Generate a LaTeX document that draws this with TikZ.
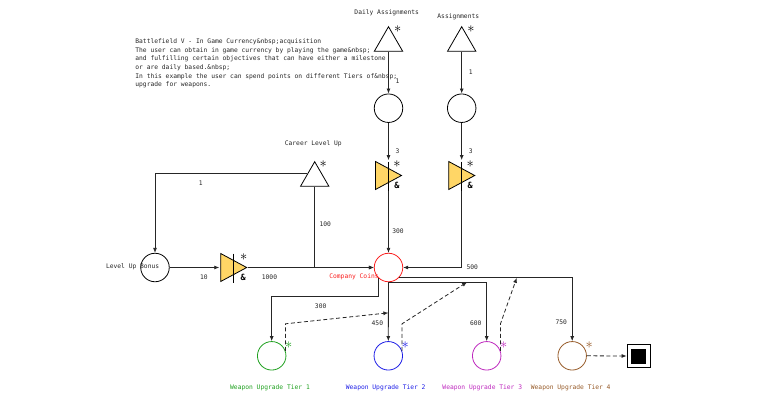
\documentclass[tikz,border=0pt]{standalone}
\usepackage{fontspec}
\setmonofont{DejaVu Sans Mono}
\usetikzlibrary{shapes.geometric,arrows.meta,calc}
\definecolor{convyellow}{RGB}{255,214,102}
\definecolor{coinred}{RGB}{250,30,30}
\definecolor{tiergreen}{RGB}{30,160,30}
\definecolor{tierblue}{RGB}{30,30,230}
\definecolor{tiermagenta}{RGB}{190,40,190}
\definecolor{tierbrown}{RGB}{150,90,40}
\begin{document}
\begin{tikzpicture}[x=1pt, y=-1pt, line width=0.8pt,
        txt/.style={font=\ttfamily\fontsize{6.3}{8.6}\selectfont, inner sep=0pt, text=black!85},
        num/.style={txt},
        pool/.style={circle, draw, minimum size=28.5pt, inner sep=0pt},
        src/.style={regular polygon, regular polygon sides=3, draw, minimum size=32.8pt, inner sep=0pt},
        conv/.style={minimum width=28pt, minimum height=30pt, inner sep=0pt, path picture={
            \draw[fill=convyellow] ([shift={(1,1)}]path picture bounding box.north west)
                -- ([shift={(1,-1)}]path picture bounding box.south west)
                -- ([shift={(-1,0)}]path picture bounding box.east) -- cycle;
            \draw ([shift={(0,1)}]path picture bounding box.north) -- (path picture bounding box.south);}},
        endsq/.style={draw, minimum size=23pt, inner sep=0pt, path picture={
            \fill ([shift={(-7.5,-7.5)}]path picture bounding box.center) rectangle ([shift={(7.5,7.5)}]path picture bounding box.center);}},
        astx/.style={font=\fontsize{14}{14}\selectfont, inner sep=0pt},
        amp/.style={font=\ttfamily\bfseries\fontsize{8.5}{8.5}\selectfont, inner sep=0pt},
        flow/.style={draw=black!85, -{Latex[length=5pt,width=4pt]}},
        trig/.style={flow, dash pattern=on 4pt off 2.5pt}
    ]
    \useasboundingbox (0,0) rectangle (764,400);

    \node[txt, anchor=north west, align=left] (note) at (135,38.5) {Battlefield V - In Game Currency\&nbsp;acquisition\\
        The user can obtain in game currency by playing the game\&nbsp;\\
        and fulfilling certain objectives that can have either a milestone\\
        or are daily based.\&nbsp;\\
        In this example the user can spend points on different Tiers of\&nbsp;\\
        upgrade for weapons.};

    \node[src] (dsrc) at (388.5,43.1) {};
    \node[src] (asrc) at (461.7,43.1) {};
    \node[src] (careersrc) at (314.7,178.1) {};
    \node[txt] (dlab) at (386.7,12.7) {Daily Assignments};
    \node[txt] (alab) at (458.3,17) {Assignments};
    \node[txt] (careerlab) at (313.3,143.3) {Career Level Up};

    \node[pool] (dpool) at (388.5,108.2) {};
    \node[pool] (apool) at (461.7,108.2) {};
    \node[pool] (bonus) at (155,267.5) {};
    \node[txt] (bonuslab) at (132.6,266.5) {Level Up Bonus};
    \node[pool, draw=coinred] (coins) at (388.5,267.5) {};
    \node[txt, text=coinred] (coinslab) at (354,277) {Company Coins};

    \node[conv] (dconv) at (388.5,175.5) {};
    \node[conv] (aconv) at (461.7,175.5) {};
    \node[conv] (bconv) at (233.7,267.5) {};

    \node[pool, draw=tiergreen] (tier1) at (271.7,355.8) {};
    \node[pool, draw=tierblue] (tier2) at (388.3,355.8) {};
    \node[pool, draw=tiermagenta] (tier3) at (486.7,355.8) {};
    \node[pool, draw=tierbrown] (tier4) at (572.2,355.8) {};
    \node[txt, text=tiergreen] (t1lab) at (270,387.3) {Weapon Upgrade Tier 1};
    \node[txt, text=tierblue] (t2lab) at (385.7,387.3) {Weapon Upgrade Tier 2};
    \node[txt, text=tiermagenta] (t3lab) at (482.3,387.3) {Weapon Upgrade Tier 3};
    \node[txt, text=tierbrown] (t4lab) at (570.7,387.3) {Weapon Upgrade Tier 4};
    \node[endsq] (endsq) at (638.5,356) {};

    \node[astx] (dsrcstar) at ($(dsrc)+(9.2,-13.5)$) {$\ast$};
    \node[astx] (asrcstar) at ($(asrc)+(9.2,-13.5)$) {$\ast$};
    \node[astx] (careerstar) at ($(careersrc)+(8.5,-13.5)$) {$\ast$};
    \node[astx] (dconvstar) at ($(dconv)+(8.5,-11)$) {$\ast$};
    \node[astx] (aconvstar) at ($(aconv)+(8.5,-11)$) {$\ast$};
    \node[astx] (bconvstar) at ($(bconv)+(10,-10.5)$) {$\ast$};
    \node[amp] (dconvamp) at ($(dconv)+(8.5,10)$) {\&};
    \node[amp] (aconvamp) at ($(aconv)+(8.5,10)$) {\&};
    \node[amp] (bconvamp) at ($(bconv)+(9.5,9.5)$) {\&};
    \node[astx, text=tiergreen] (t1star) at ($(tier1)+(17,-10.5)$) {$\ast$};
    \node[astx, text=tierblue] (t2star) at ($(tier2)+(17,-10.5)$) {$\ast$};
    \node[astx, text=tiermagenta] (t3star) at ($(tier3)+(17,-10.5)$) {$\ast$};
    \node[astx, text=tierbrown] (t4star) at ($(tier4)+(17,-10.5)$) {$\ast$};

    \draw[flow] (dsrc.south) -- node[num, pos=0.71, xshift=9pt] {1} (dpool.north);
    \draw[flow] (asrc.south) -- node[num, pos=0.48, xshift=9pt] {1} (apool.north);
    \draw[flow] (dpool.south) -- node[num, pos=0.77, xshift=9pt] {3} (dconv.north);
    \draw[flow] (apool.south) -- node[num, pos=0.77, xshift=9pt] {3} (aconv.north);
    \draw[flow] (dconv.south) -- node[num, pos=0.65, xshift=9.5pt] {300} (coins.north);
    \draw[flow] (aconv.south) |- node[num, pos=0.5, xshift=10.5pt] {500} (coins.east);
    \draw[flow] (bonus.east) -- node[num, pos=0.69, yshift=-9.5pt] {10} (bconv.west);
    \draw[flow] (bconv.east) -- node[num, pos=0.17, yshift=-9.5pt] {1000} (coins.west);
    \draw[flow] (careersrc.south) |- node[num, pos=0.23, xshift=10.5pt] {100} (coins.west);
    \draw[flow] (careersrc.side 1) -| node[num, pos=0.35, yshift=-9.5pt] {1} (bonus.north);

    \draw[flow] (coins.225) -- ++(0,19) -| node[num, pos=0.27, yshift=-9pt] {300} (tier1.north);
    \draw[flow] (coins.south) -- node[num, pos=0.7, xshift=-11pt] {450} coordinate[pos=0.52] (m2) (tier2.north);
    \draw[flow] (coins.south) -| node[num, pos=0.85, xshift=-11pt] {600} coordinate[pos=0.4] (m3) (tier3.north);
    \draw[flow] (coins.315) -| node[num, pos=0.85, xshift=-11pt] {750} coordinate[pos=0.34] (m4) (tier4.north);

    \draw[trig] (tier1.20) -- ++(0,-27) -- (m2);
    \draw[trig] (tier2.20) -- ++(0,-27) -- (m3);
    \draw[trig] (tier3.20) -- ++(0,-27) -- (m4);
    \draw[trig] (tier4.east) -- (endsq.west);
\end{tikzpicture}
\end{document}
